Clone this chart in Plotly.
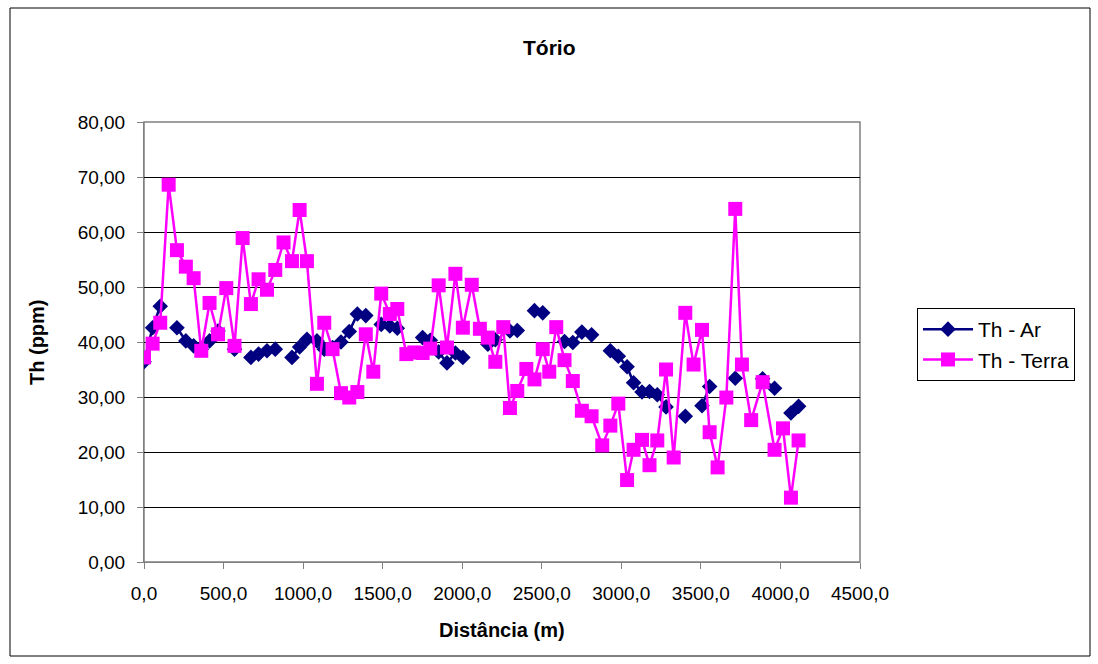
import plotly.graph_objects as go

# Distance along the profile (m)
distancia = [0, 54, 102, 155, 207, 263, 312, 360, 412, 465,
             517, 569, 620, 672, 720, 773, 825, 877, 930, 978,
             1024, 1087, 1133, 1185, 1238, 1290, 1341, 1394, 1441, 1491,
             1545, 1592, 1649, 1699, 1751, 1799, 1852, 1904, 1957, 2004,
             2060, 2111, 2161, 2208, 2258, 2300, 2346, 2403, 2454, 2506,
             2547, 2591, 2643, 2695, 2752, 2813, 2880, 2931, 2981, 3036,
             3077, 3130, 3177, 3226, 3281, 3329, 3402, 3454, 3507, 3555,
             3605, 3660, 3716, 3758, 3816, 3888, 3963, 4016, 4066, 4114]

# Thorium in air (ppm); None = not measured at that station
th_ar = [36.4, 42.6, 46.5, None, 42.6, 40.2, 39.3, 38.7, 40.2, 42.0,
         None, 38.7, None, 37.2, 37.8, 38.4, 38.7, None, 37.2, 39.1,
         40.5, 40.2, 38.7, 39.0, 40.0, 41.9, 45.1, 44.8, None, 43.2,
         42.9, 42.5, None, None, 40.8, 40.3, 38.2, 36.2, 38.0, 37.2,
         None, None, 39.6, 40.4, None, 42.0, 42.1, None, 45.7, 45.3,
         None, None, 40.1, 39.9, 41.8, 41.3, None, 38.4, 37.4, 35.5,
         32.6, 30.9, 31.0, 30.4, 28.2, None, 26.5, None, 28.4, 31.9,
         None, None, 33.4, None, None, 33.3, 31.6, None, 27.1, 28.3]

# Thorium in soil (ppm)
th_terra = [37.2, 39.7, 43.5, 68.6, 56.7, 53.7, 51.6, 38.4, 47.1, 41.4,
            49.8, 39.3, 58.9, 46.9, 51.4, 49.5, 53.1, 58.1, 54.7, 64.0,
            54.7, 32.4, 43.5, 38.7, 30.7, 29.9, 30.9, 41.4, 34.6, 48.8,
            45.1, 46.0, 37.8, 38.1, 38.0, 38.8, 50.3, 39.0, 52.4, 42.6,
            50.4, 42.4, 40.8, 36.4, 42.7, 28.0, 31.1, 35.1, 33.2, 38.7,
            34.6, 42.7, 36.7, 32.9, 27.5, 26.5, 21.2, 24.8, 28.8, 14.9,
            20.4, 22.2, 17.6, 22.1, 35.0, 19.0, 45.3, 35.9, 42.2, 23.6,
            17.2, 29.9, 64.2, 35.9, 25.8, 32.7, 20.4, 24.3, 11.7, 22.1]

W, H = 1098, 664
L, R, T, B = 144, 860, 122, 562  # plot area in pixels
PW, PH = R - L, B - T


def px(x):
    return (x - L) / PW


def py(y):
    return (B - y) / PH


FONT = "Arial, Liberation Sans, sans-serif"

fig = go.Figure()
fig.add_trace(go.Scatter(
    x=distancia, y=th_ar, name="Th - Ar", mode="lines+markers",
    line=dict(color="#000080", width=2.5),
    marker=dict(symbol="diamond", size=12, color="#000080"),
    connectgaps=False,
))
fig.add_trace(go.Scatter(
    x=distancia, y=th_terra, name="Th - Terra", mode="lines+markers",
    line=dict(color="#FF00FF", width=2.5),
    marker=dict(symbol="square", size=14, color="#FF00FF"),
))

fig.update_layout(
    width=W, height=H,
    margin=dict(l=L, r=W - R, t=T, b=H - B, pad=0),
    paper_bgcolor="white", plot_bgcolor="white",
    separators=",.",
    font=dict(family=FONT, size=19, color="black"),
    showlegend=True,
    legend=dict(
        x=px(917), y=py(308), xanchor="left", yanchor="top",
        bordercolor="black", borderwidth=1, bgcolor="white",
        font=dict(size=21), itemwidth=50, tracegroupgap=2,
    ),
    xaxis=dict(
        range=[0, 4500], tick0=0, dtick=500, tickformat=".1f",
        showgrid=False, zeroline=False,
        showline=True, linecolor="#808080", linewidth=1,
        ticks="outside", ticklen=6, tickcolor="#808080",
        ticklabelstandoff=8,
        tickfont=dict(size=19),
    ),
    yaxis=dict(
        range=[0, 80], tick0=0, dtick=10, tickformat=".2f",
        showgrid=True, gridcolor="black", gridwidth=1, zeroline=False,
        showline=True, linecolor="#808080", linewidth=1,
        ticks="outside", ticklen=6, tickcolor="#808080",
        ticklabelstandoff=8,
        tickfont=dict(size=19),
    ),
)

# plot-area frame and outer chart border
fig.add_shape(type="rect", xref="paper", yref="paper", x0=0, y0=0, x1=1, y1=1,
              line=dict(color="#808080", width=1.5), layer="below")
fig.add_shape(type="rect", xref="paper", yref="paper",
              x0=px(10), x1=px(1090), y0=py(656), y1=py(8),
              line=dict(color="black", width=1))

fig.add_annotation(text="<b>Tório</b>", xref="paper", yref="paper",
                   x=px(549), y=py(47), showarrow=False,
                   font=dict(size=21), xanchor="center", yanchor="middle")
fig.add_annotation(text="<b>Distância (m)</b>", xref="paper", yref="paper",
                   x=px(502), y=py(630), showarrow=False,
                   font=dict(size=20), xanchor="center", yanchor="middle")
fig.add_annotation(text="<b>Th (ppm)</b>", xref="paper", yref="paper",
                   x=px(37), y=py(342), showarrow=False, textangle=-90,
                   font=dict(size=20), xanchor="center", yanchor="middle")

fig.write_html("out.html")
